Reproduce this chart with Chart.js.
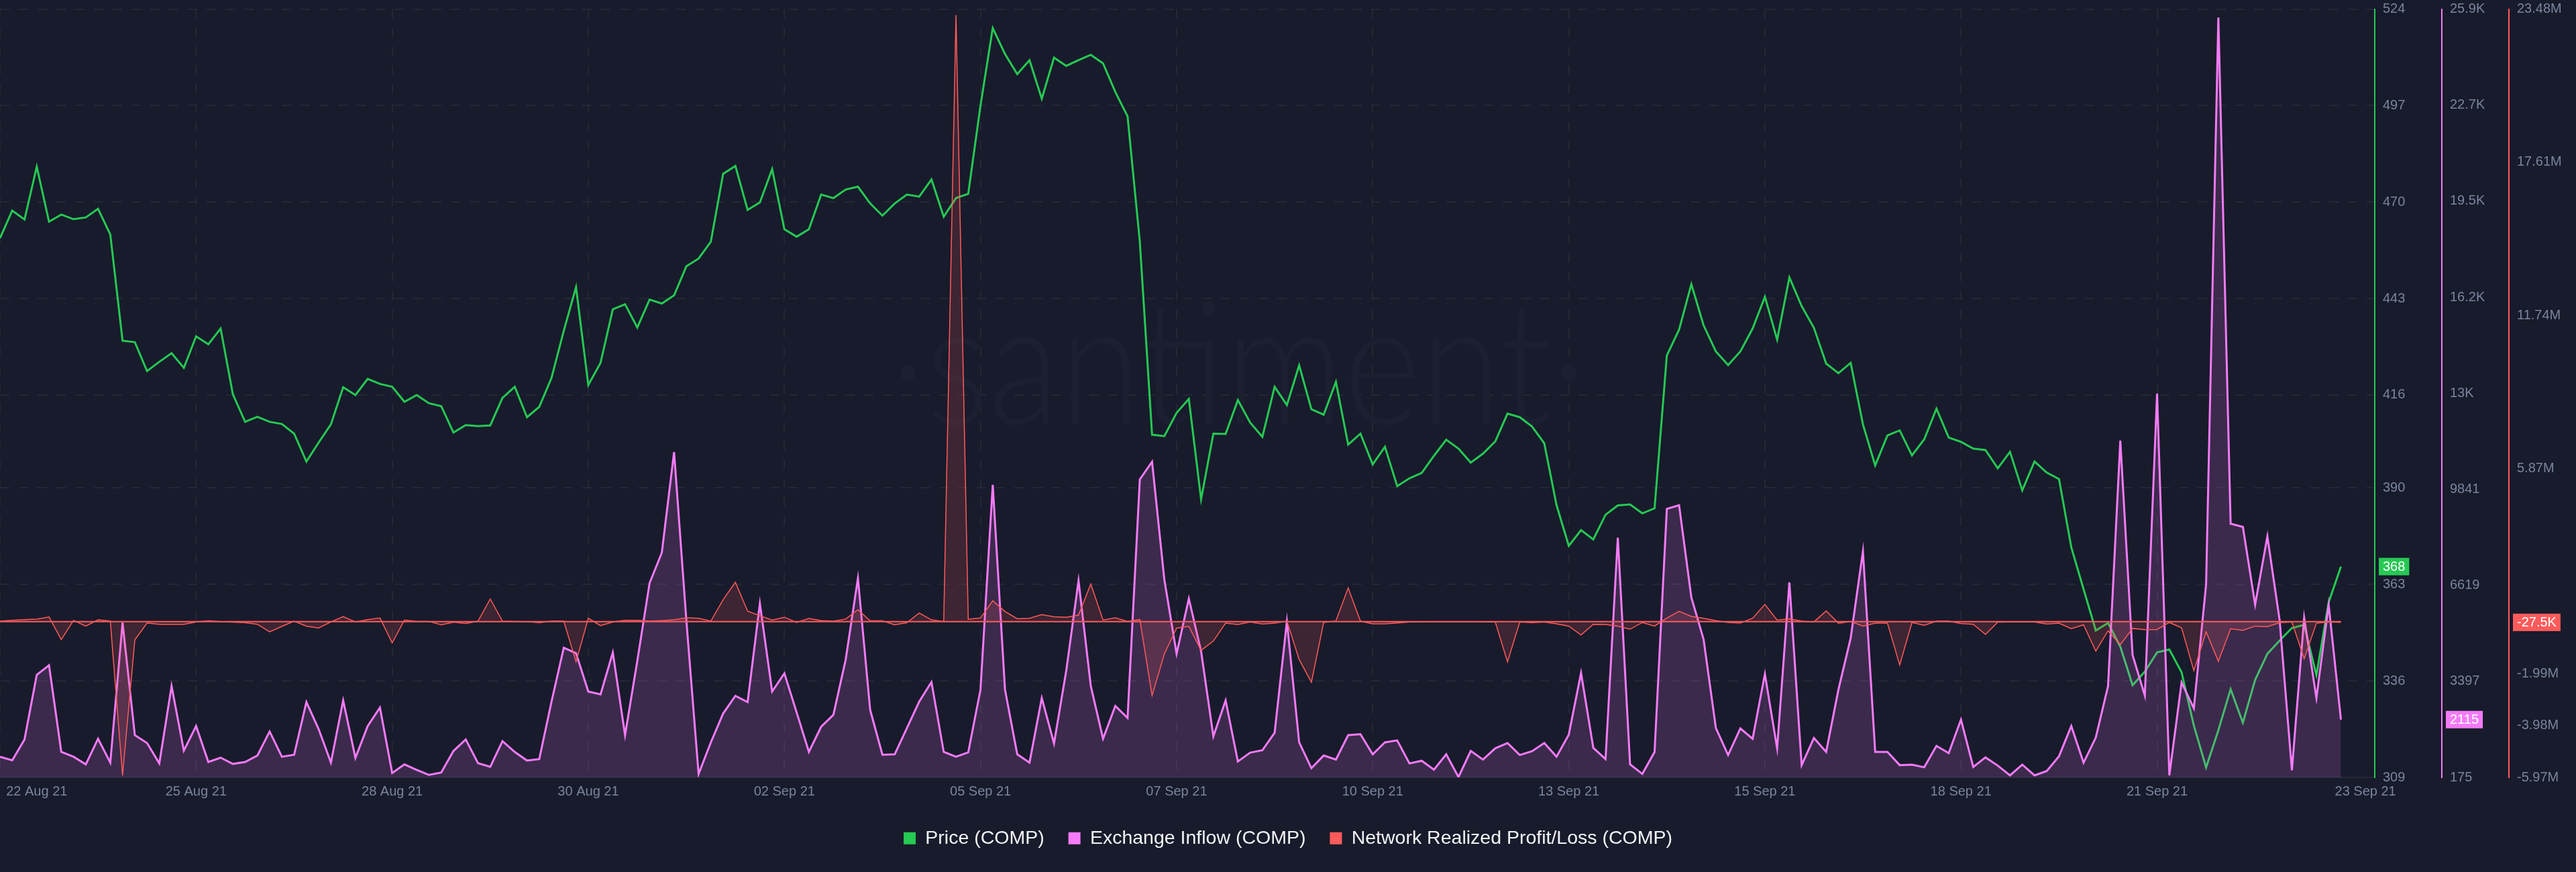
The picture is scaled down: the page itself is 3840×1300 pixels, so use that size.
<!DOCTYPE html>
<html>
<head>
<meta charset="utf-8">
<title>COMP on-chain chart</title>
<script src="https://cdn.jsdelivr.net/npm/chart.js@4/dist/chart.umd.min.js"></script>
<style>
    html, body { margin: 0; padding: 0; background: #181b2b; }
    canvas { display: block; }
</style>
</head>
<body>
<canvas id="chart" width="3840" height="1300"></canvas>
<script>
// Values, one point every 4 hours
const price = [
    459.9, 467.6, 465.1, 479.9, 464.5, 466.5, 465.2, 465.7, 468.1, 460.9, 431.2, 430.8, 422.7, 425.3, 427.7, 423.6,
    432.4, 430.2, 434.6, 416.2, 408.5, 409.9, 408.5, 407.9, 405.2, 397.4, 402.7, 407.8, 418.2, 416.0, 420.5, 419.1,
    418.3, 414.1, 416.0, 413.7, 412.9, 405.5, 407.6, 407.3, 407.5, 415.2, 418.3, 409.8, 412.7, 420.8, 434.0, 446.2,
    418.8, 425.0, 440.0, 441.4, 434.9, 442.7, 441.6, 443.9, 452.0, 454.2, 458.9, 477.9, 480.1, 467.8, 469.9, 479.2,
    462.4, 460.3, 462.4, 472.1, 471.1, 473.5, 474.3, 469.6, 466.2, 469.6, 472.1, 471.5, 476.3, 465.9, 471.1, 472.3,
    497.0, 518.7, 511.4, 505.8, 509.7, 498.9, 510.4, 508.1, 509.7, 511.2, 508.8, 500.8, 494.0, 458.9, 404.9, 404.5,
    411.0, 414.9, 386.8, 405.2, 405.1, 414.6, 408.3, 404.3, 418.3, 413.2, 424.3, 412.0, 410.5, 419.7, 402.1, 405.2,
    396.6, 401.5, 390.5, 392.7, 394.2, 399.0, 403.5, 401.0, 397.1, 399.6, 403.0, 410.8, 409.8, 407.2, 402.5, 385.2,
    373.8, 378.2, 375.6, 382.5, 385.1, 385.4, 382.9, 384.3, 427.1, 434.3, 447.0, 435.5, 428.2, 424.4, 428.2, 434.6,
    443.5, 431.5, 448.9, 440.9, 434.8, 424.8, 422.1, 425.0, 407.8, 396.3, 404.7, 406.1, 399.1, 403.6, 412.2, 404.1,
    402.9, 401.0, 400.6, 395.5, 400.1, 389.3, 397.4, 394.3, 392.5, 373.4, 361.7, 350.1, 352.2, 345.6, 334.8, 338.6,
    344.0, 344.8, 338.4, 323.5, 311.8, 322.2, 333.7, 324.3, 336.3, 343.6, 347.3, 350.8, 351.7, 337.6, 358.0, 368.0
];

const exchangeInflow = [
    870, 749, 1448, 3617, 3938, 1030, 870, 613, 1472, 669, 5368, 1593, 1328, 645, 3240, 1071,
    1898, 693, 838, 629, 693, 910, 1713, 870, 934, 2701, 1793, 669, 2758, 830, 1898, 2516,
    323, 613, 428, 259, 339, 1063, 1448, 653, 532, 1392, 1030, 741, 789, 2717, 4525, 4340,
    3055, 2958, 4364, 1593, 4083, 6694, 7714, 11088, 5449, 291, 1352, 2316, 2910, 2701, 6011, 3055,
    3665, 2356, 1030, 1874, 2276, 4123, 6854, 2436, 934, 950, 1834, 2717, 3376, 1030, 870, 1014,
    3119, 9987, 3119, 950, 669, 2838, 1312, 3762, 6774, 3240, 1472, 2573, 2171, 10172, 10766, 6814,
    4324, 6172, 4404, 1553, 2757, 709, 1006, 1086, 1673, 5408, 1352, 484, 910, 773, 1593, 1625,
    950, 1352, 1416, 645, 733, 436, 950, 187, 1063, 773, 1151, 1328, 926, 1055, 1328, 870,
    1609, 3681, 1167, 789, 8220, 613, 291, 1030, 9184, 9304, 6212, 4806, 1834, 926, 1818, 1472,
    3641, 1151, 6718, 588, 1496, 1030, 3119, 4846, 7762, 1030, 1030, 588, 604, 516, 1231, 990,
    2115, 524, 846, 572, 243, 604, 243, 388, 886, 1898, 669, 1512, 3240, 11476, 4284, 2918,
    13050, 243, 3360, 2492, 6654, 25670, 8686, 8581, 5971, 8260, 5448, 412, 5529, 2838, 5971, 2115
];

// In millions
const realizedProfitLoss = [
    0.02, 0.05, 0.08, 0.10, 0.18, -0.69, 0.05, -0.17, 0.07, 0.02, -5.90, -0.70, -0.05, -0.10, -0.10, -0.10,
    -0.01, 0.03, 0.00, -0.02, -0.04, -0.10, -0.39, -0.18, 0.02, -0.17, -0.24, -0.01, 0.19, -0.01, 0.08, 0.14,
    -0.81, 0.06, 0.01, 0.01, -0.12, -0.02, -0.07, 0.02, 0.87, 0.02, 0.01, 0.00, -0.04, 0.02, 0.02, -1.54,
    0.13, -0.15, -0.01, 0.05, 0.05, 0.02, 0.04, 0.07, 0.15, 0.13, 0.02, 0.84, 1.51, 0.40, 0.23, 0.06,
    0.17, -0.03, 0.12, 0.04, 0.02, 0.10, 0.46, 0.03, 0.03, -0.12, -0.04, 0.33, 0.07, 0.00, 23.25, 0.09,
    0.14, 0.80, 0.39, 0.11, 0.13, 0.27, 0.19, 0.17, 0.25, 1.44, 0.06, 0.15, 0.01, 0.08, -2.83, -1.24,
    -0.25, -0.18, -1.10, -0.74, -0.06, -0.11, -0.01, -0.09, -0.06, 0.02, -1.45, -2.32, -0.03, 0.03, 1.29, 0.02,
    -0.08, -0.08, -0.05, -0.01, -0.01, 0.00, 0.00, 0.00, 0.00, -0.01, -0.01, -1.54, -0.01, -0.04, -0.01, -0.08,
    -0.17, -0.51, -0.10, -0.11, -0.17, -0.29, -0.03, -0.17, 0.14, 0.40, 0.20, 0.13, 0.04, -0.03, -0.05, 0.13,
    0.66, 0.06, 0.11, 0.02, -0.01, 0.41, -0.06, 0.01, -0.17, -0.06, -0.06, -1.66, -0.03, -0.14, 0.02, 0.02,
    -0.07, -0.10, -0.49, -0.02, -0.01, -0.01, -0.01, -0.09, -0.06, -0.27, -0.12, -1.13, -0.35, -0.88, -0.26, -0.31,
    -0.30, -0.03, -0.24, -1.88, -0.39, -1.52, -0.27, -0.33, -0.17, -0.19, -0.04, -0.01, -1.42, -0.06, -0.01, -0.0275
];

const seriesNames = ['Price (COMP)', 'Exchange Inflow (COMP)', 'Network Realized Profit/Loss (COMP)'];

// Tick values (x is the point index) and the text shown for them
const xTicks = [0, 3, 16, 32, 48, 64, 80, 96, 112, 128, 144, 160, 176, 193];
const xLabels = ['', '22 Aug 21', '25 Aug 21', '28 Aug 21', '30 Aug 21', '02 Sep 21', '05 Sep 21', '07 Sep 21',
    '10 Sep 21', '13 Sep 21', '15 Sep 21', '18 Sep 21', '21 Sep 21', '23 Sep 21'];

const priceTicks = [524, 497, 470, 443, 416, 390, 363, 336, 309];
const priceLabels = ['524', '497', '470', '443', '416', '390', '363', '336', '309'];

const inflowTicks = [25951, 22729, 19507, 16285, 13063, 9841, 6619, 3397, 175];
const inflowLabels = ['25.9K', '22.7K', '19.5K', '16.2K', '13K', '9841', '6619', '3397', '175'];

const profitTicks = [23.48, 17.61, 11.74, 5.87, -1.99, -3.98, -5.97];
const profitLabels = ['23.48M', '17.61M', '11.74M', '5.87M', '-1.99M', '-3.98M', '-5.97M'];

const lastValues = ['368', '2115', '-27.5K'];

const GREEN = '#26c953';
const PINK = '#f47bf7';
const RED = '#ff5b5b';
const GRID = '#232736';
const MUTED = '#7a859e';
const FONT = '"Liberation Sans", Arial, sans-serif';

function toPoints(values) {
    return values.map((v, i) => ({ x: i, y: v }));
}

// Drop the room Chart.js keeps for labels overhanging the plot
function noOverhang(axis) {
    axis.paddingLeft = 0;
    axis.paddingRight = 0;
    axis.paddingTop = 0;
    axis.paddingBottom = 0;
}

// Dashes for the grid lines only, the axis line itself stays solid
function gridDash(ctx) {
    return ctx.type === 'tick' ? [14, 14] : [];
}

// Right hand value axis with a fixed list of ticks
function valueAxis(color, min, max, ticks, labels, showGrid) {
    return {
        position: 'right',
        min: min,
        max: max,
        afterBuildTicks: axis => { axis.ticks = ticks.map(v => ({ value: v })); },
        afterFit: axis => {
            axis.width = 100;
            noOverhang(axis);
        },
        ticks: {
            autoSkip: false,
            padding: 12,
            color: MUTED,
            font: { family: FONT, size: 20 },
            callback: (v, i) => labels[i]
        },
        grid: { display: showGrid, color: GRID, lineWidth: 2, drawTicks: false },
        border: { display: true, color: color, width: 2, dash: gridDash }
    };
}

// Faint logo behind the lines
const watermark = {
    id: 'watermark',
    beforeDatasetsDraw(chart) {
        const ctx = chart.ctx;
        ctx.save();
        ctx.translate(1846, 632);
        ctx.scale(0.86, 1);
        ctx.font = '300 255px Lato, sans-serif';
        ctx.fillStyle = '#1c1f30';
        ctx.textAlign = 'center';
        ctx.textBaseline = 'alphabetic';
        ctx.fillText('\u00b7santiment\u00b7', 0, 0);
        ctx.restore();
    }
};

// Coloured boxes with the last value of each series on its axis
const lastValueBadges = {
    id: 'lastValueBadges',
    afterDraw(chart) {
        const ctx = chart.ctx;
        const badges = [
            { axis: chart.scales.yPrice, value: price, color: GREEN, text: lastValues[0] },
            { axis: chart.scales.yInflow, value: exchangeInflow, color: PINK, text: lastValues[1] },
            { axis: chart.scales.yProfit, value: realizedProfitLoss, color: RED, text: lastValues[2] }
        ];
        ctx.save();
        ctx.font = '20px ' + FONT;
        ctx.textAlign = 'left';
        ctx.textBaseline = 'middle';
        badges.forEach(b => {
            const y = b.axis.getPixelForValue(b.value[b.value.length - 1]);
            const left = b.axis.left + 6;
            const width = ctx.measureText(b.text).width + 12;
            ctx.fillStyle = b.color;
            ctx.fillRect(left, y - 13, width, 26);
            ctx.fillStyle = '#ffffff';
            ctx.fillText(b.text, left + 6, y + 1);
        });
        ctx.restore();
    }
};

new Chart(document.getElementById('chart').getContext('2d'), {
    type: 'line',
    data: {
        datasets: [
            {
                label: seriesNames[0],
                data: toPoints(price),
                yAxisID: 'yPrice',
                borderColor: GREEN,
                borderWidth: 3,
                fill: false,
                order: 4
            },
            {
                label: seriesNames[1],
                data: toPoints(exchangeInflow),
                yAxisID: 'yInflow',
                borderColor: PINK,
                backgroundColor: 'rgba(244, 123, 247, 0.16)',
                borderWidth: 3,
                fill: 'start',
                order: 3
            },
            {
                label: seriesNames[2],
                data: toPoints(realizedProfitLoss),
                yAxisID: 'yProfit',
                borderColor: RED,
                backgroundColor: 'rgba(255, 91, 91, 0.16)',
                borderWidth: 1.5,
                fill: 'origin',
                order: 2
            },
            {
                // Base of the red area
                label: 'zero',
                data: toPoints(realizedProfitLoss.map(() => 0)),
                yAxisID: 'yProfit',
                borderColor: RED,
                borderWidth: 2,
                fill: false,
                order: 1
            }
        ]
    },
    options: {
        responsive: false,
        animation: false,
        devicePixelRatio: 1,
        parsing: false,
        normalized: true,
        layout: { padding: { left: 0, right: 0, top: 13.5, bottom: 26 } },
        elements: { point: { radius: 0 }, line: { tension: 0, borderJoinStyle: 'miter' } },
        scales: {
            x: {
                type: 'linear',
                min: 0,
                max: 193.76,
                afterBuildTicks: axis => { axis.ticks = xTicks.map(v => ({ value: v })); },
                afterFit: axis => {
                    axis.height = 40.5;
                    noOverhang(axis);
                },
                ticks: {
                    autoSkip: false,
                    maxRotation: 0,
                    padding: 9,
                    color: MUTED,
                    font: { family: FONT, size: 20 },
                    callback: (v, i) => xLabels[i]
                },
                grid: {
                    // The two end labels sit off the grid, so they get no line
                    color: ctx => (ctx.index === 1 || ctx.index === xTicks.length - 1) ? 'transparent' : GRID,
                    lineWidth: 2,
                    drawTicks: false
                },
                border: { display: true, color: GRID, width: 2, dash: gridDash }
            },
            yPrice: valueAxis(GREEN, 309, 524, priceTicks, priceLabels, true),
            yInflow: valueAxis(PINK, 175, 25951, inflowTicks, inflowLabels, false),
            yProfit: valueAxis(RED, -5.97, 23.48, profitTicks, profitLabels, false)
        },
        plugins: {
            tooltip: { enabled: false },
            legend: {
                position: 'bottom',
                labels: {
                    boxWidth: 18,
                    boxHeight: 18,
                    padding: 36,
                    color: '#f2f3f6',
                    font: { family: FONT, size: 28.5 },
                    generateLabels: chart => seriesNames.map((name, i) => ({
                        text: name,
                        fillStyle: chart.data.datasets[i].borderColor,
                        strokeStyle: chart.data.datasets[i].borderColor,
                        fontColor: '#f2f3f6',
                        lineWidth: 0,
                        datasetIndex: i
                    }))
                }
            }
        }
    },
    plugins: [watermark, lastValueBadges]
});
</script>
</body>
</html>
